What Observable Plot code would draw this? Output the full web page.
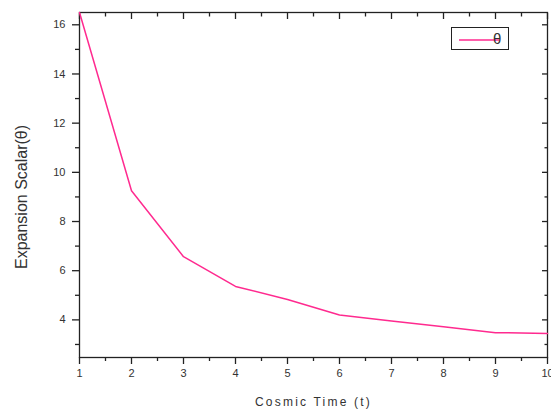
<!DOCTYPE html>
<html>
<head>
<meta charset="utf-8">
<script src="https://cdn.jsdelivr.net/npm/d3@7"></script>
<script src="https://cdn.jsdelivr.net/npm/@observablehq/plot@0.6"></script>
<style>
  html, body { margin: 0; padding: 0; background: #fff; }
  #chart { position: relative; width: 551px; height: 409px; }
  #legend {
    position: absolute; left: 451px; top: 27px; width: 58px; height: 23px;
    box-sizing: border-box; border: 1.3px solid #222; background: #fff;
    font: 15px "Liberation Sans", Arial, sans-serif; color: #333;
  }
  #legend svg { position: absolute; left: 0; top: 0; }
  #legend span { position: absolute; left: 41px; top: 2px; }
</style>
</head>
<body>
<div id="chart"><div id="legend"><svg width="58" height="23"><line x1="7" x2="47" y1="12" y2="12" stroke="#ff2a8f" stroke-width="1.5"/></svg><span>θ</span></div></div>
<script>
// Cosmic time t and the expansion scalar θ(t)
const time = [1, 2, 3, 4, 5, 6, 7, 8, 9, 10];
const theta = [16.5, 9.25, 6.57, 5.36, 4.83, 4.2, 3.95, 3.72, 3.48, 3.45];

const xMajor = [1, 2, 3, 4, 5, 6, 7, 8, 9, 10];
const xMinor = [1.5, 2.5, 3.5, 4.5, 5.5, 6.5, 7.5, 8.5, 9.5];
const yMajor = [4, 6, 8, 10, 12, 14, 16];
const yMinor = [3, 5, 7, 9, 11, 13, 15];

const data = time.map((t, i) => ({t, theta: theta[i]}));

const lineColor = "#ff2a8f";
const axisColor = "#222";

const plot = Plot.plot({
  width: 551,
  height: 409,
  marginLeft: 79,
  marginRight: 4,
  marginTop: 12,
  marginBottom: 52,
  style: {fontFamily: "'Liberation Sans', Arial, sans-serif", fontSize: "11px", color: "#333", background: "#fff"},
  x: {domain: [1, 10]},
  y: {domain: [2.47, 16.5]},
  marks: [
    Plot.frame({stroke: axisColor, strokeWidth: 1.3}),
    // bottom axis: major + minor ticks pointing out
    Plot.axisX({anchor: "bottom", ticks: xMajor, tickSize: 7, tickPadding: 5, tickFormat: d => d, stroke: axisColor, strokeWidth: 1.3, label: "Cosmic Time (t)", labelAnchor: "center", labelArrow: "none", labelOffset: 48, fontSize: 11}),
    Plot.axisX({anchor: "bottom", ticks: xMinor, tickSize: 4, tickFormat: () => "", stroke: axisColor, strokeWidth: 1.3, label: null}),
    // top mirror ticks pointing in
    Plot.axisX({anchor: "top", ticks: xMajor, tickSize: -6, tickFormat: () => "", stroke: axisColor, strokeWidth: 1.3, label: null}),
    Plot.axisX({anchor: "top", ticks: xMinor, tickSize: -3.5, tickFormat: () => "", stroke: axisColor, strokeWidth: 1.3, label: null}),
    // left axis
    Plot.axisY({anchor: "left", ticks: yMajor, tickSize: 7, tickPadding: 7, tickFormat: d => d, stroke: axisColor, strokeWidth: 1.3, label: "Expansion Scalar(θ)", labelAnchor: "center", labelArrow: "none", labelOffset: 64}),
    Plot.axisY({anchor: "left", ticks: yMinor, tickSize: 4, tickFormat: () => "", stroke: axisColor, strokeWidth: 1.3, label: null}),
    // right mirror ticks pointing in
    Plot.axisY({anchor: "right", ticks: yMajor, tickSize: -6, tickFormat: () => "", stroke: axisColor, strokeWidth: 1.3, label: null}),
    Plot.axisY({anchor: "right", ticks: yMinor, tickSize: -3.5, tickFormat: () => "", stroke: axisColor, strokeWidth: 1.3, label: null}),
    Plot.line(data, {x: "t", y: "theta", stroke: lineColor, strokeWidth: 1.5})
  ]
});

// axis titles are set larger than the tick labels
d3.select(plot).selectAll("[aria-label='x-axis label'] text")
  .style("font-size", "12px").style("letter-spacing", "2.2px");
d3.select(plot).selectAll("[aria-label='y-axis label'] text")
  .style("font-size", "16px").attr("dx", -12);

document.getElementById("chart").prepend(plot);
</script>
</body>
</html>
